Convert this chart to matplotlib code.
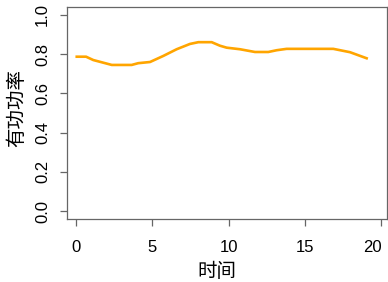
import matplotlib
matplotlib.use("Agg")
from matplotlib import pyplot as plt

plt.rcParams['font.family'] = ['Liberation Sans', 'Noto Sans CJK SC']

tempo = [0.08, 0.69, 1.16, 2.37, 3.67, 4.1, 4.87, 5.74, 6.61, 7.48, 8.03, 8.9,
         9.44, 9.88, 10.75, 11.73, 12.6, 13.15, 13.8, 16.85, 17.94, 19.03]
potencia = [0.787, 0.787, 0.770, 0.745, 0.745, 0.754, 0.760, 0.791, 0.825, 0.852,
            0.861, 0.861, 0.843, 0.833, 0.825, 0.811, 0.811, 0.820, 0.827, 0.827,
            0.810, 0.779]

xticks = [0, 5, 10, 15, 20]
yticks = [0.0, 0.2, 0.4, 0.6, 0.8, 1.0]
ylabels = ["0.0", "0.2", "0.4", "0.6", "0.8", "1.0"]

fig = plt.figure(figsize=(3.88, 2.82), dpi=100)
ax = fig.add_axes([0.172, 0.2234, 0.8246, 0.7516])

ax.plot(tempo, potencia, color="#FFA500", lw=1.9)

ax.set_xlim(-0.575, 20.34)
ax.set_ylim(-0.04, 1.04)
ax.set_xticks(xticks)
ax.set_yticks(yticks)
ax.set_yticklabels(ylabels)

for s in ax.spines.values():
    s.set_color("#666666")
    s.set_linewidth(0.9)

ax.tick_params(axis="both", length=5, width=0.9, color="#666666", labelsize=12)
ax.tick_params(axis="x", pad=10)
ax.tick_params(axis="y", pad=7, labelrotation=90)
for lab in ax.get_yticklabels():
    lab.set_va("center")
# R nudges the last label inside the device
ax.get_xticklabels()[-1].set_ha("right")

fig.text(217 / 388, 1 - 272 / 282, "时间", ha="center", va="center", fontsize=14)
fig.text(17 / 388, 1 - 108 / 282, "有功功率", ha="center", va="center",
         fontsize=14, rotation=90)

plt.savefig("out.png", dpi=100)
